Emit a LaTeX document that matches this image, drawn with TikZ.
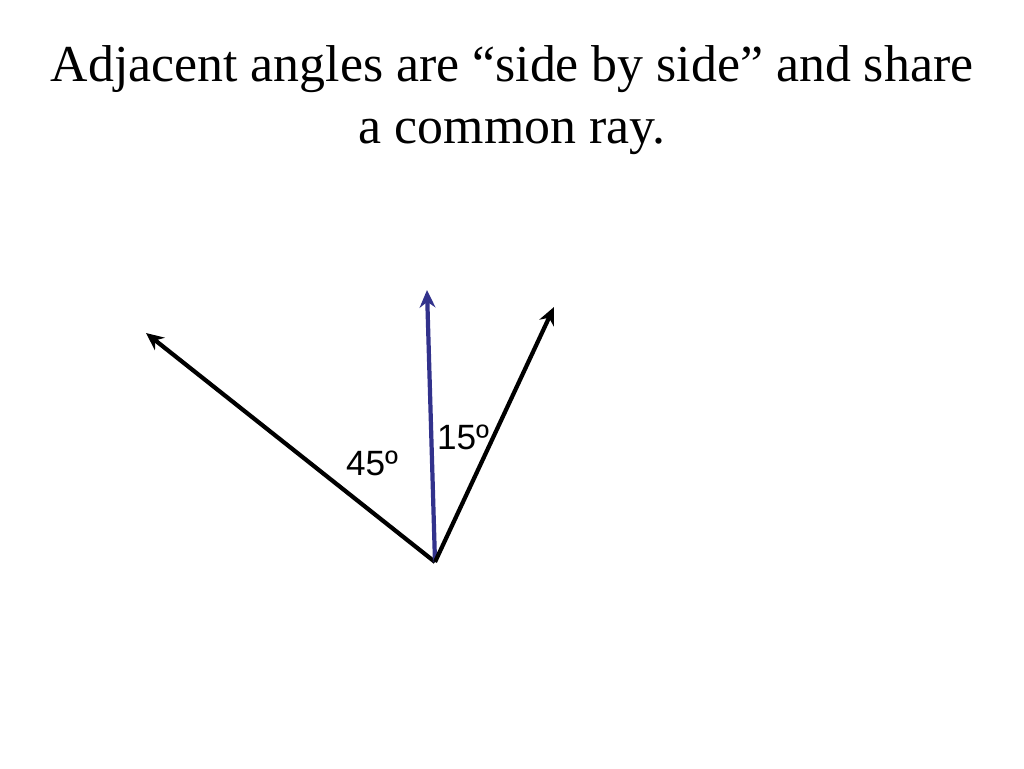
\documentclass[tikz,border=0pt]{standalone}
\usepackage{fontspec}
\setmainfont{Liberation Serif}
\newfontfamily\labelfont{Liberation Sans}
\usetikzlibrary{arrows.meta}
\definecolor{rayblue}{RGB}{50,50,140}
\begin{document}
\begin{tikzpicture} [x=0.02cm,y=-0.02cm]
    \useasboundingbox (0,0) rectangle (1024,768);
    \node[align=center,font=\fontsize{29.5}{35}\selectfont] (title) at (512,100) {Adjacent angles are “side by side” and share\\a common ray.};
    \coordinate (vertex) at (435,562);
    \coordinate (leftTip) at (146,333);
    \coordinate (midTip) at (427,290);
    \coordinate (rightTip) at (554,307);
    \draw[line width=2.4pt,-{Stealth[length=10pt,width=9pt]}] (vertex)--(leftTip);
    \draw[line width=2.4pt,rayblue,-{Stealth[length=10pt,width=9pt]}] (vertex)--(midTip);
    \draw[line width=2.4pt,-{Stealth[length=10pt,width=9pt]}] (vertex)--(rightTip);
    \node[font=\labelfont\fontsize{20}{22}\selectfont] (leftAngle) at (372,463) {45º};
    \node[font=\labelfont\fontsize{20}{22}\selectfont] (rightAngle) at (463,437) {15º};
\end{tikzpicture}
\end{document}
